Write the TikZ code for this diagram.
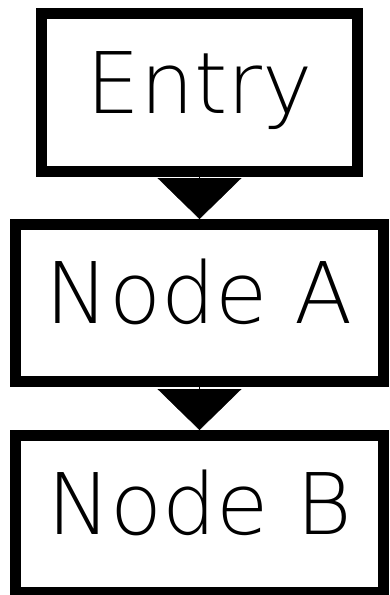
\documentclass[tikz,border=0pt]{standalone}
\usepackage{fontspec}
\newfontfamily\boxfont{DejaVuSans-ExtraLight.ttf}
\usetikzlibrary{arrows.meta}

\begin{document}
\begin{tikzpicture}[x=1pt,y=-1pt,
  flowbox/.style={draw, line width=11pt, minimum width=368pt, minimum height=157pt,
    font=\boxfont\fontsize{85}{85}\selectfont, text height=62pt, text depth=21pt},
  flowarrow/.style={-{Triangle[length=41pt,width=84pt]}}]
  \useasboundingbox (0,0) rectangle (389,595);
  % boxes
  \node[flowbox, minimum width=316pt, minimum height=158pt] (entry) at (199.5,92.5) {Entry};
  \node[flowbox] (nodeA) at (199.5,303) {Node A};
  \node[flowbox] (nodeB) at (199.5,514) {Node B};
  % links
  \draw[flowarrow] (entry) -- (nodeA);
  \draw[flowarrow] (nodeA) -- (nodeB);
\end{tikzpicture}
\end{document}
